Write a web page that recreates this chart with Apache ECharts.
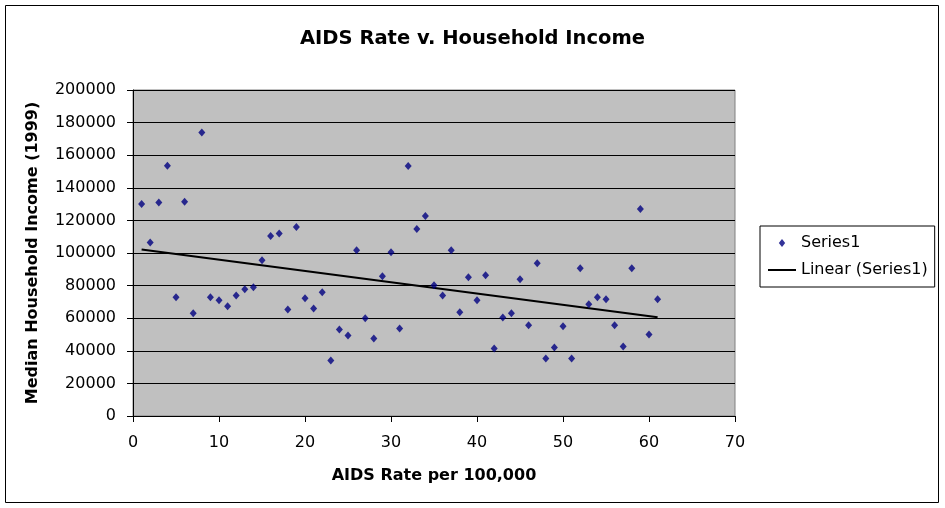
<!DOCTYPE html>
<html>
<head>
<meta charset="utf-8">
<script src="https://cdn.jsdelivr.net/npm/echarts@6/dist/echarts.min.js"></script>
<style>
html,body{margin:0;padding:0;background:#fff;}
#chart{width:945px;height:508px;}
</style>
</head>
<body>
<div id="chart"></div>
<script>
// AIDS rate per 100,000 (x) and median household income 1999 (y)
const aidsRate = [1,2,3,4,5,6,7,8,9,10,11,12,13,14,15,16,17,18,19,20,21,22,23,24,25,26,27,28,29,30,
  31,32,33,34,35,36,37,38,39,40,41,42,43,44,45,46,47,48,49,50,51,52,53,54,55,56,57,58,59,60,61];
const income = [130000,106500,131000,153500,72800,131500,63000,174000,72800,71000,
  67300,74000,77700,79000,95600,110400,112000,65400,115900,72200,
  66000,75900,34000,53000,49400,101700,59900,47600,85700,100500,
  53700,153400,114700,122700,80200,74000,101700,63600,85100,71000,
  86400,41400,60500,63000,83900,55600,93700,35300,42000,55000,
  35300,90700,68500,72800,71600,55600,42700,90700,127000,50000,71600];
const xTicks = [0,10,20,30,40,50,60,70];
const yTicks = [0,20000,40000,60000,80000,100000,120000,140000,160000,180000,200000];

const points = aidsRate.map((x,i)=>[x,income[i]]);
// least-squares linear trend
const n = points.length;
let sx=0, sy=0, sxx=0, sxy=0;
points.forEach(([x,y])=>{sx+=x;sy+=y;sxx+=x*x;sxy+=x*y;});
const slope = (n*sxy - sx*sy)/(n*sxx - sx*sx);
const intercept = (sy - slope*sx)/n;
const xMin = Math.min(...aidsRate), xMax = Math.max(...aidsRate);
const trend = [[xMin, intercept+slope*xMin],[xMax, intercept+slope*xMax]];

const FONT = '"DejaVu Sans", Arial, sans-serif';
const chart = echarts.init(document.getElementById('chart'), null, {renderer:'canvas'});
chart.setOption({
  animation:false,
  backgroundColor:'#ffffff',
  title:{
    text:'AIDS Rate v. Household Income',
    left:'center', top:24,
    textStyle:{fontFamily:FONT,fontSize:19.5,fontWeight:'bold',color:'#000'}
  },
  graphic:[{
    type:'rect', silent:true, z:-1,
    shape:{x:5.5,y:5.5,width:933,height:497},
    style:{fill:'none',stroke:'#000',lineWidth:1}
  }],
  legend:{
    orient:'vertical',
    left:760, top:226,
    padding:[9,7,9,7],
    itemGap:11,
    itemWidth:28, itemHeight:8,
    symbolKeepAspect:true,
    backgroundColor:'#fff',
    borderColor:'#000', borderWidth:1,
    textStyle:{fontFamily:FONT,fontSize:16,color:'#000'},
    data:[{name:'Series1',icon:'path://M4,0L8,5L4,10L0,5Z'},{name:'Linear (Series1)'}]
  },
  grid:{
    left:133, right:210, top:90, bottom:92,
    show:true, backgroundColor:'#c0c0c0', borderColor:'#808080', borderWidth:1
  },
  xAxis:{
    type:'value', min:xTicks[0], max:xTicks[xTicks.length-1], interval:10,
    name:'AIDS Rate per 100,000', nameLocation:'middle', nameGap:52,
    nameTextStyle:{fontFamily:FONT,fontSize:16,fontWeight:'bold',color:'#000'},
    axisLine:{show:true,onZero:false,lineStyle:{color:'#000',width:1}},
    axisTick:{show:true,length:6,inside:false,lineStyle:{color:'#000'}},
    axisLabel:{fontFamily:FONT,fontSize:16,color:'#000',margin:19},
    splitLine:{show:false}
  },
  yAxis:{
    type:'value', min:yTicks[0], max:yTicks[yTicks.length-1], interval:20000,
    name:'Median Household Income (1999)', nameLocation:'middle', nameGap:92,
    nameTextStyle:{fontFamily:FONT,fontSize:16,fontWeight:'bold',color:'#000'},
    axisLine:{show:true,onZero:false,lineStyle:{color:'#000',width:1}},
    axisTick:{show:true,length:6,inside:false,lineStyle:{color:'#000'}},
    axisLabel:{fontFamily:FONT,fontSize:16,color:'#000',margin:17,formatter:(v)=>String(v)},
    splitLine:{show:true,lineStyle:{color:'#000',width:1}}
  },
  series:[
    {
      name:'Series1', type:'scatter', data:points,
      symbol:'diamond', symbolSize:[7,8],
      itemStyle:{color:'#000080'}, z:3
    },
    {
      name:'Linear (Series1)', type:'line', data:trend,
      symbol:'none', lineStyle:{color:'#000',width:2},
      itemStyle:{color:'rgba(0,0,0,0)'}, z:2
    }
  ]
});
</script>
</body>
</html>
